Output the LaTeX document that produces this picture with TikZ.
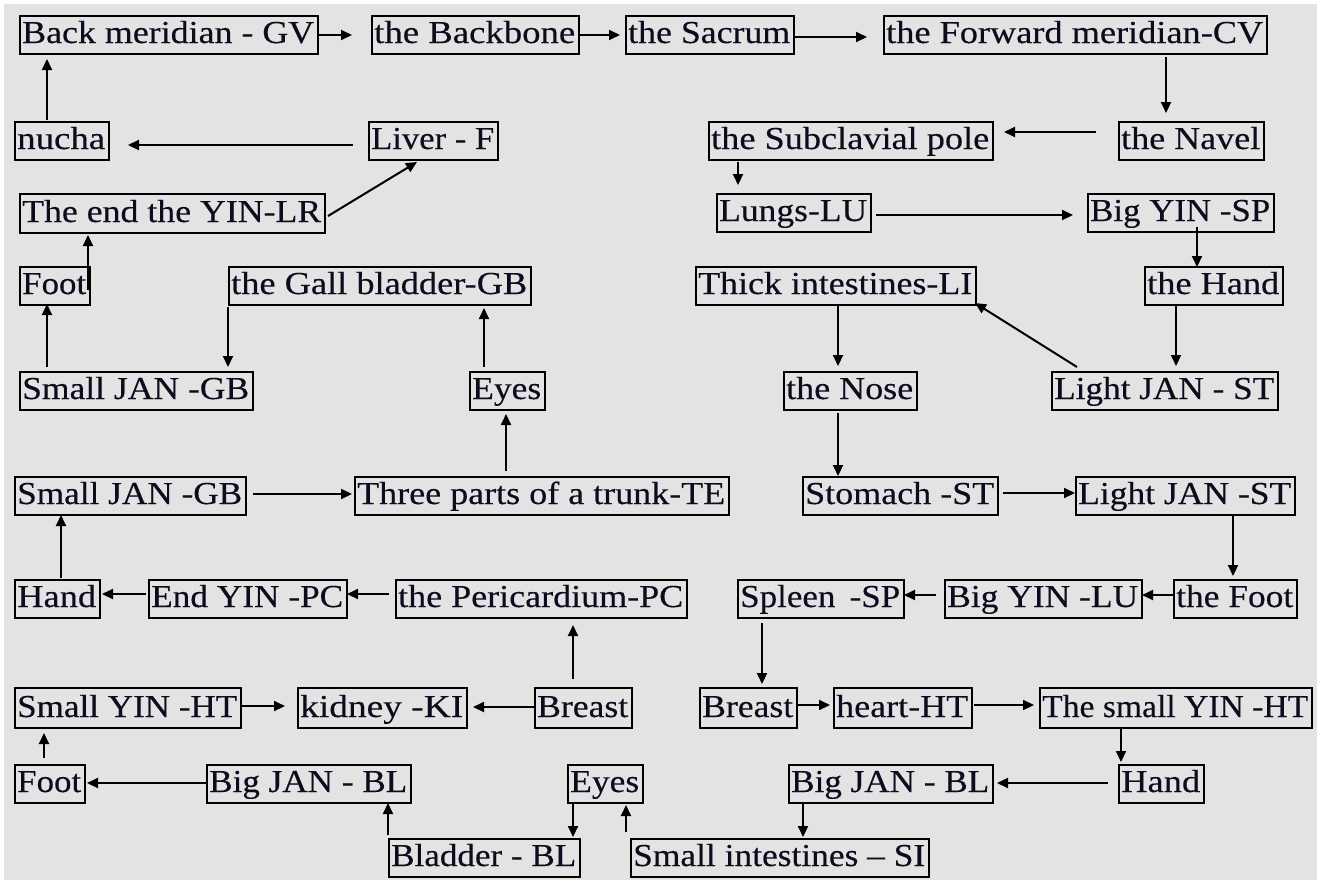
\documentclass[tikz,border=0pt]{standalone}
\usepackage{graphicx}
\usepackage{fontspec}
\setmainfont{Liberation Serif}[FakeBold=0.3]
\usetikzlibrary{calc,arrows.meta}
\definecolor{bg}{RGB}{227,227,227}
\definecolor{ink}{RGB}{12,12,30}
\newcommand\bxfont{\fontsize{32pt}{38pt}\selectfont}
\tikzset{
 boxst/.style={draw=black, line width=2.2pt, rectangle, inner sep=0pt, anchor=north west},
 txtst/.style={text=ink, inner sep=0pt, anchor=base west, font=\bxfont},
 arr/.style={draw=black, line width=2pt, -{Triangle[length=11pt,width=10pt]}}
}
\newlength\bxw
\newcommand\fitw[2]{\settowidth\bxw{#2}\pgfmathsetmacro\bxs{(#1)/\bxw}\scalebox{\bxs}[1]{#2}}
\newcommand\mkbox[6]{%
 \node[boxst, minimum width={(#4-#2)*1pt}, minimum height={(#5-#3)*1pt}] (#1) at (#2,#3) {};
 \node[txtst] (#1-t) at ($(#1.north west)+(3,#5-#3-10)$) {\fitw{#4-#2-6}{#6}};
}
\begin{document}
\begin{tikzpicture}[x=1pt,y=-1pt]
\useasboundingbox (0,0) rectangle (1321,881);
\fill[white] (0,0) rectangle (1321,881);
\fill[bg] (4,4) rectangle (1317,880);
% boxes
\mkbox{back}{19}{15}{317}{53}{Back meridian - GV}
\mkbox{backbone}{371}{15}{578}{53}{the Backbone}
\mkbox{sacrum}{625}{15}{793}{53}{the Sacrum}
\mkbox{forward}{883}{15}{1266}{53}{the Forward meridian-CV}
\mkbox{nucha}{14}{121}{108}{159}{nucha}
\mkbox{liver}{368}{121}{497}{159}{Liver - F}
\mkbox{subcl}{708}{121}{992}{159}{the Subclavial pole}
\mkbox{navel}{1118}{121}{1263}{159}{the Navel}
\mkbox{endlr}{19}{193}{324}{232}{The end the YIN-LR}
\mkbox{lungs}{716}{193}{870}{231}{Lungs-LU}
\mkbox{bigsp}{1087}{193}{1273}{231}{Big YIN -SP}
\mkbox{foota}{19}{266}{89}{304}{Foot}
\mkbox{gall}{228}{266}{530}{304}{the Gall bladder-GB}
\mkbox{thick}{695}{266}{975}{304}{Thick intestines-LI}
\mkbox{handa}{1144}{266}{1282}{304}{the Hand}
\mkbox{sjgba}{19}{371}{252}{409}{Small JAN -GB}
\mkbox{eyesa}{469}{371}{544}{409}{Eyes}
\mkbox{nose}{783}{371}{916}{409}{the Nose}
\mkbox{ljsta}{1051}{371}{1277}{409}{Light JAN - ST}
\mkbox{sjgbb}{14}{476}{245}{514}{Small JAN -GB}
\mkbox{three}{354}{476}{728}{514}{Three parts of a trunk-TE}
\mkbox{stom}{802}{476}{997}{514}{Stomach -ST}
\mkbox{ljstb}{1075}{476}{1294}{514}{Light JAN -ST}
\mkbox{handb}{14}{579}{99}{617}{Hand}
\mkbox{endpc}{148}{579}{346}{617}{End YIN -PC}
\mkbox{peri}{395}{579}{686}{617}{the Pericardium-PC}
\mkbox{spleen}{737}{579}{903}{617}{Spleen\hspace{13pt}-SP}
\mkbox{biglu}{944}{579}{1141}{617}{Big YIN -LU}
\mkbox{footb}{1173}{579}{1296}{617}{the Foot}
\mkbox{syht}{14}{687}{240}{727}{Small YIN -HT}
\mkbox{kidney}{297}{687}{466}{727}{kidney -KI}
\mkbox{breasta}{534}{687}{631}{727}{Breast}
\mkbox{breastb}{699}{687}{796}{727}{Breast}
\mkbox{heart}{833}{687}{971}{727}{heart-HT}
\mkbox{tsyht}{1039}{687}{1311}{727}{The small YIN -HT}
\mkbox{footc}{14}{764}{84}{802}{Foot}
\mkbox{bigbla}{206}{764}{410}{802}{Big JAN - BL}
\mkbox{eyesb}{567}{764}{642}{802}{Eyes}
\mkbox{bigblb}{788}{764}{992}{802}{Big JAN - BL}
\mkbox{handc}{1118}{764}{1203}{802}{Hand}
\mkbox{bladder}{388}{838}{579}{876}{Bladder - BL}
\mkbox{smint}{630}{838}{928}{876}{Small intestines – SI}
% connectors
\draw[arr] ($(back.north west)+(298,20)$) -- ($(backbone.north west)+(-19,20)$);
\draw[arr] ($(backbone.north west)+(207,20)$) -- ($(sacrum.north west)+(-5,20)$);
\draw[arr] ($(sacrum.north west)+(168,22)$) -- ($(forward.north west)+(-16,22)$);
\draw[arr] ($(forward.north west)+(283,42)$) -- ($(navel.north west)+(48,-8)$);
\draw[arr] ($(navel.north west)+(-22,11)$) -- ($(subcl.north west)+(296,11)$);
\draw[arr] ($(subcl.north west)+(30,41)$) -- ($(lungs.north west)+(22,-8)$);
\draw[arr] ($(lungs.north west)+(160,22)$) -- ($(bigsp.north west)+(-14,22)$);
\draw[arr] ($(bigsp.north west)+(110,34)$) -- ($(handa.north west)+(53,1)$);
\draw[arr] ($(handa.north west)+(32,38)$) -- ($(ljsta.north west)+(125,-5)$);
\draw[arr] ($(ljsta.north west)+(26,-4)$) -- ($(thick.north west)+(280,37)$);
\draw[arr] ($(thick.north west)+(143,39)$) -- ($(nose.north west)+(55,-5)$);
\draw[arr] ($(nose.north west)+(55,42)$) -- ($(stom.north west)+(36,0)$);
\draw[arr] ($(stom.north west)+(201,17)$) -- ($(ljstb.north west)+(0,17)$);
\draw[arr] ($(ljstb.north west)+(158,38)$) -- ($(footb.north west)+(60,-3)$);
\draw[arr] ($(footb.north west)+(0,16)$) -- ($(biglu.north west)+(198,16)$);
\draw[arr] ($(biglu.north west)+(-8,16)$) -- ($(spleen.north west)+(167,16)$);
\draw[arr] ($(spleen.north west)+(25,44)$) -- ($(breastb.north west)+(63,-3)$);
\draw[arr] ($(breastb.north west)+(97,18)$) -- ($(heart.north west)+(-3,18)$);
\draw[arr] ($(heart.north west)+(141,18)$) -- ($(tsyht.north west)+(-5,18)$);
\draw[arr] ($(tsyht.north west)+(82,40)$) -- ($(handc.north west)+(3,-2)$);
\draw[arr] ($(handc.north west)+(-10,19)$) -- ($(bigblb.north west)+(209,19)$);
\draw[arr] ($(bigblb.north west)+(15,38)$) -- ($(smint.north west)+(173,-1)$);
\draw[arr] ($(smint.north west)+(-4,-6)$) -- ($(eyesb.north west)+(59,41)$);
\draw[arr] ($(eyesb.north west)+(6,38)$) -- ($(bladder.north west)+(185,-1)$);
\draw[arr] ($(bladder.north west)+(0,-3)$) -- ($(bigbla.north west)+(182,39)$);
\draw[arr] ($(bigbla.north west)+(0,19)$) -- ($(footc.north west)+(73,19)$);
\draw[arr] ($(footc.north west)+(30,-6)$) -- ($(syht.north west)+(30,46)$);
\draw[arr] ($(syht.north west)+(226,19)$) -- ($(kidney.north west)+(-12,19)$);
\draw[arr] ($(breasta.north west)+(0,20)$) -- ($(kidney.north west)+(176,20)$);
\draw[arr] ($(breasta.north west)+(39,-8)$) -- ($(peri.north west)+(178,46)$);
\draw[arr] ($(peri.north west)+(-6,15)$) -- ($(endpc.north west)+(199,15)$);
\draw[arr] ($(endpc.north west)+(-2,15)$) -- ($(handb.north west)+(88,15)$);
\draw[arr] ($(handb.north west)+(47,-1)$) -- ($(sjgbb.north west)+(47,39)$);
\draw[arr] ($(sjgbb.north west)+(239,18)$) -- ($(three.north west)+(-2,18)$);
\draw[arr] ($(three.north west)+(152,-5)$) -- ($(eyesa.north west)+(37,43)$);
\draw[arr] ($(eyesa.north west)+(15,-4)$) -- ($(gall.north west)+(256,42)$);
\draw[arr] ($(gall.north west)+(0,41)$) -- ($(sjgba.north west)+(209,-4)$);
\draw[arr] ($(sjgba.north west)+(28,-4)$) -- ($(foota.north west)+(28,38)$);
\draw[arr] ($(foota.north west)+(69,24)$) -- ($(endlr.north west)+(69,42)$);
\draw[arr] ($(endlr.north west)+(309,23)$) -- ($(liver.north west)+(49,41)$);
\draw[arr] ($(liver.north west)+(-15,24)$) -- ($(nucha.north west)+(114,24)$);
\draw[arr] ($(nucha.north west)+(33,-1)$) -- ($(back.north west)+(28,44)$);
\end{tikzpicture}
\end{document}
